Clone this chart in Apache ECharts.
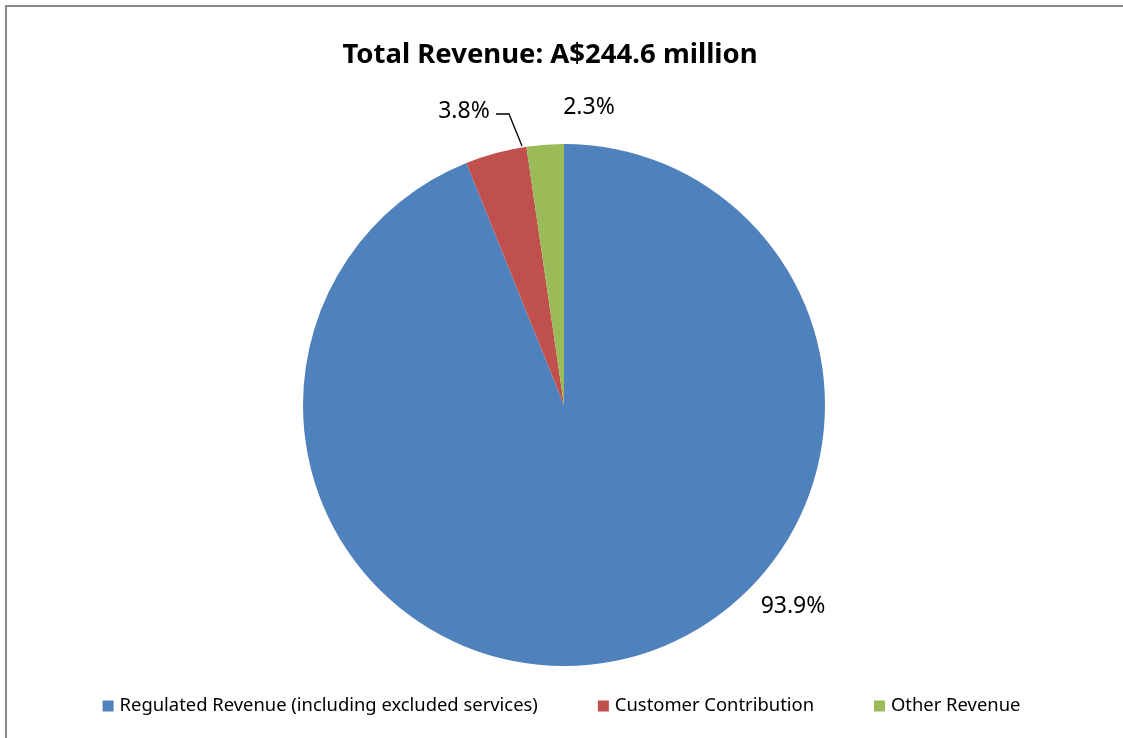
<!DOCTYPE html>
<html>
<head>
<meta charset="utf-8">
<script src="https://cdn.jsdelivr.net/npm/echarts@6/dist/echarts.min.js"></script>
<style>
  html, body { margin: 0; padding: 0; background: #fff; overflow: hidden; }
  #frame { position: absolute; left: 5px; top: 5px; width: 1130px; height: 760px; border-left: 2px solid #898989; border-top: 2px solid #898989; }
  #chart { position: absolute; left: 0; top: 0; width: 1123px; height: 738px; }
</style>
</head>
<body>
<div id="frame"></div>
<div id="chart"></div>
<script>
const titleText = 'Total Revenue: A$244.6 million';
const categories = ['Regulated Revenue (including excluded services)', 'Customer Contribution', 'Other Revenue'];
const shares = [93.9, 3.8, 2.3];
const colors = ['#4F81BD', '#C0504D', '#9BBB59'];

const FONT = 'Noto Sans';
const chart = echarts.init(document.getElementById('chart'), null, { renderer: 'canvas' });

// label placement (as in the reference layout)
const labelSpots = [
  { x: 793, y: 606, line: null },
  { x: 464, y: 111, line: [[522, 146], [509, 114], [496, 114]] },
  { x: 589, y: 107, line: null }
];

chart.setOption({
  animation: false,
  backgroundColor: 'transparent',
  title: {
    text: titleText,
    left: 545,
    textAlign: 'center',
    top: 36,
    textStyle: { fontFamily: FONT, fontWeight: 'bold', fontSize: 27.5, color: '#000' }
  },
  legend: {
    top: 692,
    left: 'center',
    itemWidth: 11,
    itemHeight: 11,
    itemGap: 60,
    icon: 'rect',
    textStyle: { fontFamily: FONT, fontSize: 18.4, color: '#000', padding: [0, 0, 0, 1] },
    data: categories
  },
  series: [{
    type: 'pie',
    center: [564, 405],
    radius: 261,
    startAngle: 90,
    clockwise: true,
    avoidLabelOverlap: false,
    itemStyle: { borderWidth: 0 },
    label: {
      show: true,
      position: 'outside',
      fontFamily: FONT,
      fontSize: 23,
      color: '#000',
      formatter: p => p.value.toFixed(1) + '%'
    },
    labelLine: { show: true, length: 10, length2: 10, lineStyle: { color: '#000', width: 1.3 } },
    labelLayout: function (params) {
      const s = labelSpots[params.dataIndex];
      const out = {
        x: s.x, y: s.y,
        align: 'center', verticalAlign: 'middle'
      };
      if (s.line) out.labelLinePoints = s.line;
      return out;
    },
    data: categories.map((c, i) => ({
      name: c,
      value: shares[i],
      itemStyle: { color: colors[i] },
      labelLine: { show: i === 1 }
    }))
  }]
});
</script>
</body>
</html>
